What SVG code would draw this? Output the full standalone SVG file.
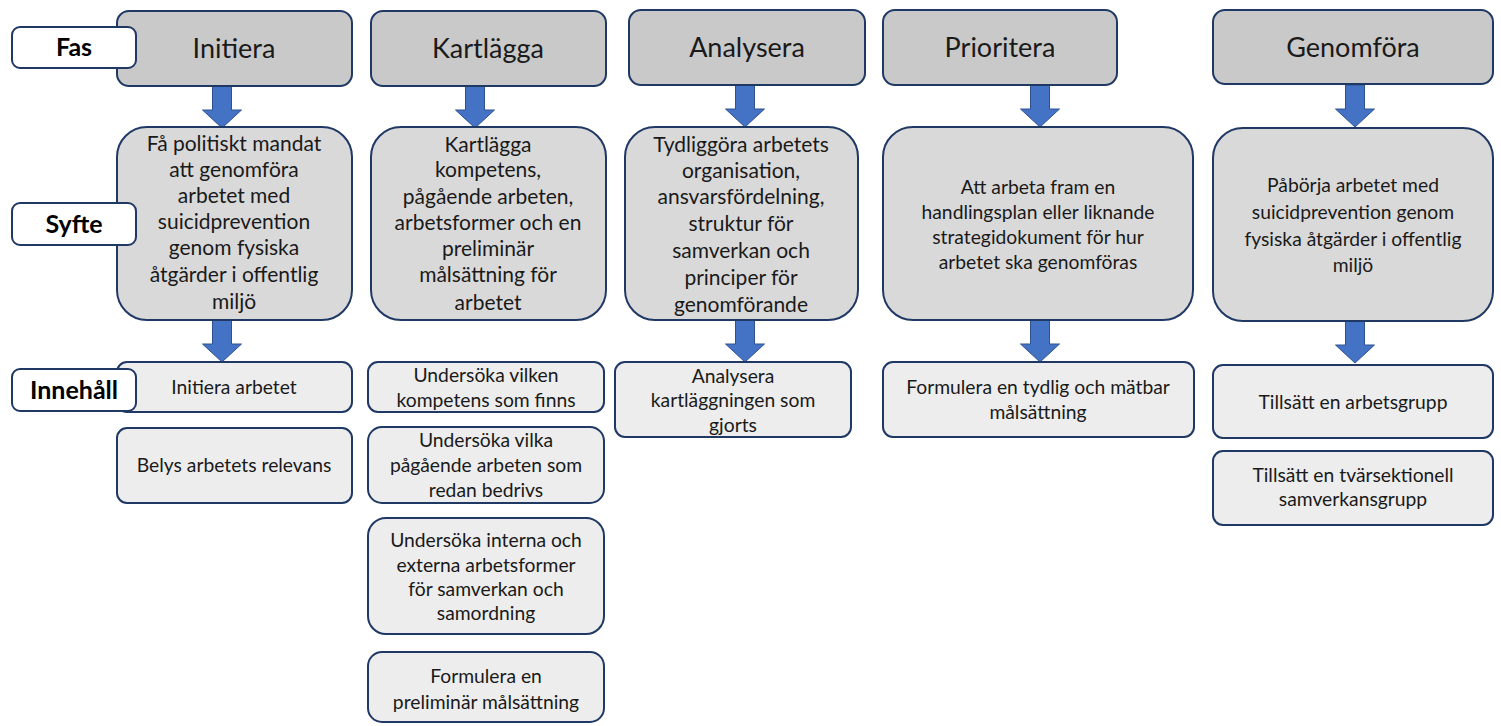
<svg xmlns="http://www.w3.org/2000/svg" width="1501" height="726" viewBox="0 0 1501 726">
<style>
.ph{fill:#c9c9c9;stroke:#1f3864;stroke-width:2}
.sy{fill:#d9d9d9;stroke:#1f3864;stroke-width:2}
.ct{fill:#ededed;stroke:#1f3864;stroke-width:2}
.lb{fill:#ffffff;stroke:#1f3864;stroke-width:2}
text{font-family:Lato,"Open Sans",sans-serif;fill:#1a1a1a;text-anchor:middle}
.tp{font-size:27px}
.ts{font-size:21px}
.tc{font-size:19.3px}
.tl{font-size:25px;font-weight:bold;fill:#000}
.ar{fill:#4472c4;stroke:#2f528f;stroke-width:1}
</style>
<defs>
<path id="arr" d="M-9.5,0 H9.5 V24 H19.5 L0,42 L-19.5,24 H-9.5 Z"/>
</defs>
<g id="connectors">
<use href="#arr" class="ar" x="222" y="86"/>
<use href="#arr" class="ar" x="222" y="320"/>
<use href="#arr" class="ar" x="475" y="86"/>
<use href="#arr" class="ar" x="745" y="85"/>
<use href="#arr" class="ar" x="745" y="320"/>
<use href="#arr" class="ar" x="1040" y="85"/>
<use href="#arr" class="ar" x="1040" y="320"/>
<use href="#arr" class="ar" x="1355" y="85"/>
<use href="#arr" class="ar" x="1355" y="321"/>
</g>
<g id="initiera">
<rect class="ph" x="117" y="11" width="235" height="75" rx="12"/>
<text class="tp" x="234" y="58">Initiera</text>
</g>
<g id="initiera-syfte">
<rect class="sy" x="117" y="127" width="235" height="193" rx="30"/>
<text class="ts" x="234" y="151">Få politiskt mandat</text>
<text class="ts" x="234" y="177">att genomföra</text>
<text class="ts" x="234" y="203">arbetet med</text>
<text class="ts" x="234" y="229">suicidprevention</text>
<text class="ts" x="234" y="255">genom fysiska</text>
<text class="ts" x="234" y="282">åtgärder i offentlig</text>
<text class="ts" x="234" y="309">miljö</text>
</g>
<g id="initiera-c1">
<rect class="ct" x="117" y="362" width="235" height="50" rx="10"/>
<text class="tc" x="234" y="394">Initiera arbetet</text>
</g>
<g id="initiera-c2">
<rect class="ct" x="117" y="428" width="235" height="75" rx="10"/>
<text class="tc" x="234" y="472">Belys arbetets relevans</text>
</g>
<g id="kartlagga">
<rect class="ph" x="371" y="11" width="235" height="75" rx="12"/>
<text class="tp" x="488" y="58">Kartlägga</text>
</g>
<g id="kartlagga-syfte">
<rect class="sy" x="371" y="127" width="235" height="193" rx="30"/>
<text class="ts" x="488" y="152">Kartlägga</text>
<text class="ts" x="488" y="177">kompetens,</text>
<text class="ts" x="488" y="204">pågående arbeten,</text>
<text class="ts" x="488" y="230">arbetsformer och en</text>
<text class="ts" x="488" y="256">preliminär</text>
<text class="ts" x="488" y="282">målsättning för</text>
<text class="ts" x="488" y="310">arbetet</text>
</g>
<g id="kartlagga-c1">
<rect class="ct" x="368" y="362" width="236" height="50" rx="10"/>
<text class="tc" x="486" y="382">Undersöka vilken</text>
<text class="tc" x="486" y="407">kompetens som finns</text>
</g>
<g id="kartlagga-c2">
<rect class="ct" x="368" y="427" width="236" height="76" rx="14"/>
<text class="tc" x="486" y="447">Undersöka vilka</text>
<text class="tc" x="486" y="472">pågående arbeten som</text>
<text class="tc" x="486" y="497">redan bedrivs</text>
</g>
<g id="kartlagga-c3">
<rect class="ct" x="368" y="518" width="236" height="116" rx="18"/>
<text class="tc" x="486" y="547">Undersöka interna och</text>
<text class="tc" x="486" y="572">externa arbetsformer</text>
<text class="tc" x="486" y="596">för samverkan och</text>
<text class="tc" x="486" y="620">samordning</text>
</g>
<g id="kartlagga-c4">
<rect class="ct" x="368" y="652" width="236" height="70" rx="14"/>
<text class="tc" x="486" y="683">Formulera en</text>
<text class="tc" x="486" y="709">preliminär målsättning</text>
</g>
<g id="analysera">
<rect class="ph" x="629" y="10" width="236" height="75" rx="12"/>
<text class="tp" x="747" y="57">Analysera</text>
</g>
<g id="analysera-syfte">
<rect class="sy" x="625" y="127" width="233" height="193" rx="30"/>
<text class="ts" x="741" y="152">Tydliggöra arbetets</text>
<text class="ts" x="741" y="178">organisation,</text>
<text class="ts" x="741" y="204">ansvarsfördelning,</text>
<text class="ts" x="741" y="231">struktur för</text>
<text class="ts" x="741" y="258">samverkan och</text>
<text class="ts" x="741" y="285">principer för</text>
<text class="ts" x="741" y="312">genomförande</text>
</g>
<g id="analysera-c1">
<rect class="ct" x="615" y="362" width="236" height="75" rx="10"/>
<text class="tc" x="733" y="383">Analysera</text>
<text class="tc" x="733" y="407">kartläggningen som</text>
<text class="tc" x="733" y="432">gjorts</text>
</g>
<g id="prioritera">
<rect class="ph" x="883" y="10" width="234" height="75" rx="12"/>
<text class="tp" x="1000" y="57">Prioritera</text>
</g>
<g id="prioritera-syfte">
<rect class="sy" x="883" y="127" width="310" height="193" rx="30"/>
<text class="tc" x="1038" y="194">Att arbeta fram en</text>
<text class="tc" x="1038" y="219">handlingsplan eller liknande</text>
<text class="tc" x="1038" y="244">strategidokument för hur</text>
<text class="tc" x="1038" y="269">arbetet ska genomföras</text>
</g>
<g id="prioritera-c1">
<rect class="ct" x="883" y="362" width="311" height="75" rx="10"/>
<text class="tc" x="1038" y="394">Formulera en tydlig och mätbar</text>
<text class="tc" x="1038" y="419">målsättning</text>
</g>
<g id="genomfora">
<rect class="ph" x="1213" y="10" width="280" height="74" rx="12"/>
<text class="tp" x="1353" y="57">Genomföra</text>
</g>
<g id="genomfora-syfte">
<rect class="sy" x="1213" y="128" width="280" height="193" rx="30"/>
<text class="tc" x="1353" y="192">Påbörja arbetet med</text>
<text class="tc" x="1353" y="219">suicidprevention genom</text>
<text class="tc" x="1353" y="246">fysiska åtgärder i offentlig</text>
<text class="tc" x="1353" y="272">miljö</text>
</g>
<g id="genomfora-c1">
<rect class="ct" x="1213" y="365" width="280" height="73" rx="10"/>
<text class="tc" x="1353" y="409">Tillsätt en arbetsgrupp</text>
</g>
<g id="genomfora-c2">
<rect class="ct" x="1213" y="451" width="280" height="74" rx="10"/>
<text class="tc" x="1353" y="482">Tillsätt en tvärsektionell</text>
<text class="tc" x="1353" y="506">samverkansgrupp</text>
</g>
<g id="label-fas">
<rect class="lb" x="12" y="27" width="124" height="41" rx="8"/>
<text class="tl" x="74" y="56">Fas</text>
</g>
<g id="label-syfte">
<rect class="lb" x="12" y="203" width="124" height="42" rx="8"/>
<text class="tl" x="74" y="233">Syfte</text>
</g>
<g id="label-innehall">
<rect class="lb" x="12" y="369" width="124" height="42" rx="8"/>
<text class="tl" x="74" y="399">Innehåll</text>
</g>
</svg>
